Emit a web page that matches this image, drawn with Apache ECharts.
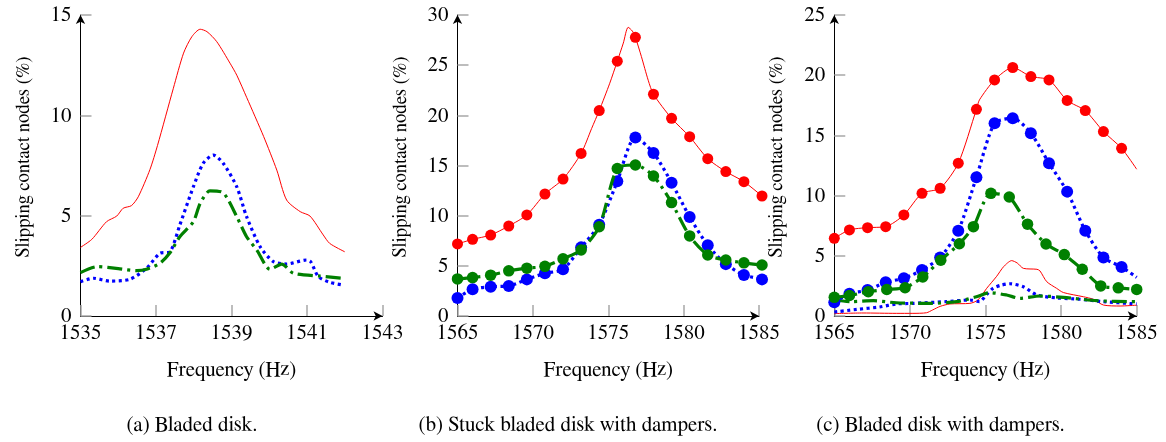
<!DOCTYPE html>
<html>
<head>
<meta charset="utf-8">
<script src="https://cdn.jsdelivr.net/npm/echarts@6/dist/echarts.min.js"></script>
<style>
html,body{margin:0;padding:0;background:#fff;}
#c{width:1166px;height:442px;}
</style>
</head>
<body>
<div id="c"></div>
<script>
// ---------------- Panel (a): Bladed disk ----------------
const redA = [[1535,3.42],[1535.3,3.82],[1535.69,4.7],[1535.96,4.98],[1536.13,5.37],[1536.35,5.5],[1536.53,5.94],[1536.84,7.3],[1537.04,8.5],[1537.46,11.35],[1537.73,13.1],[1537.95,13.92],[1538.17,14.29],[1538.35,14.17],[1538.61,13.67],[1538.96,12.6],[1539.14,12.0],[1539.4,10.9],[1539.85,8.95],[1540.2,7.27],[1540.46,5.78],[1540.82,5.2],[1541.08,4.98],[1541.43,4.04],[1541.6,3.62],[1542.0,3.2]];
const blueA = [[1535,1.71],[1535.34,1.88],[1535.78,1.74],[1536.31,1.83],[1536.75,2.38],[1537.1,3.12],[1537.37,3.2],[1537.63,4.53],[1537.99,6.44],[1538.25,7.61],[1538.52,8.02],[1538.78,7.61],[1539.14,6.44],[1539.4,4.95],[1539.76,3.45],[1540.11,2.71],[1540.46,2.59],[1540.99,2.79],[1541.1,2.7],[1541.3,1.96],[1541.6,1.68],[1541.96,1.54]];
const greenA = [[1535,2.16],[1535.43,2.46],[1536.0,2.36],[1536.49,2.26],[1536.75,2.33],[1537.1,2.62],[1537.37,3.15],[1537.63,3.95],[1537.99,4.7],[1538.17,5.61],[1538.43,6.24],[1538.78,6.14],[1539.14,4.95],[1539.4,3.95],[1539.67,3.29],[1540.02,2.33],[1540.33,2.59],[1540.64,2.13],[1541.35,1.99],[1541.96,1.88]];

// ---------------- Panel (b): Stuck bladed disk with dampers ----------------
const freqB = [1565,1566.0,1567.2,1568.4,1569.6,1570.8,1572.0,1573.2,1574.4,1575.6,1576.8,1578.0,1579.2,1580.4,1581.6,1582.8,1584.0,1585.2];
const redB = [7.18,7.64,8.07,8.97,10.07,12.16,13.65,16.2,20.47,25.4,27.77,22.1,19.7,17.87,15.68,14.39,13.39,11.96];
const blueB = [1.8,2.66,2.92,2.99,3.65,4.25,4.65,6.84,9.1,13.42,17.8,16.25,13.29,9.87,7.05,5.17,4.09,3.65];
const greenB = [3.7,3.83,4.07,4.5,4.77,4.95,5.7,6.58,8.9,14.7,15.05,13.95,11.3,7.98,6.08,5.58,5.3,5.08];
const redExtraB = [[1573.9,18.7],[1575.1,23.2],[1576.0,27.2],[1576.32,28.77],[1576.6,28.4],[1577.2,25.85],[1577.65,23.5],[1585.7,11.4]];
const blueExtraB = [[1586.05,3.26]];
const greenExtraB = [];

// ---------------- Panel (c): Bladed disk with dampers ----------------
const freqC = [1565,1566.0,1567.2,1568.4,1569.6,1570.8,1572.0,1573.2,1574.4,1575.6,1576.8,1578.0,1579.2,1580.4,1581.6,1582.8,1584.0];
const redC = [6.45,7.15,7.34,7.42,8.39,10.19,10.61,12.69,17.17,19.61,20.64,19.89,19.61,17.9,17.06,15.32,13.93];
const blueC = [1.15,1.85,2.15,2.8,3.13,3.82,4.86,7.08,11.52,16.0,16.43,15.18,12.69,10.33,7.09,4.86,4.07];
const freqGreenC = [1565,1566.0,1567.25,1568.47,1569.68,1570.85,1572.04,1573.27,1574.2,1575.36,1576.57,1577.78,1579.0,1580.21,1581.4,1582.62,1583.78,1585.0];
const greenC = [1.55,1.7,2.02,2.2,2.35,3.24,4.64,6.0,7.42,10.19,9.88,7.63,5.98,5.1,3.88,2.5,2.34,2.21];
const redExtraC = [[1574.6,17.95],[1585,12.19]];
const blueExtraC = [[1585,3.21]];
const greenExtraC = [];
const redLowC = [[1565,0.2],[1566.9,0.25],[1569.1,0.22],[1570.2,0.22],[1571.1,0.27],[1571.5,0.5],[1572.0,0.8],[1572.65,1.0],[1573.97,1.05],[1574.5,1.33],[1575.08,2.3],[1575.74,3.3],[1576.2,4.1],[1576.73,4.6],[1577.1,4.4],[1577.5,3.96],[1578.4,3.88],[1578.6,3.75],[1579.05,2.85],[1579.7,2.3],[1580.15,1.95],[1581.47,1.6],[1582.13,1.39],[1582.8,0.91],[1583.9,0.83],[1585,0.9]];
const blueLowC = [[1565,0.33],[1566.5,0.55],[1568.0,0.75],[1569.1,1.0],[1570.2,1.05],[1572.4,1.19],[1573.97,1.33],[1574.6,1.19],[1575.08,1.8],[1575.5,2.3],[1576.0,2.55],[1576.6,2.68],[1577.5,2.43],[1578.4,1.74],[1579.7,1.5],[1581.25,1.39],[1582.8,1.19],[1585,1.0]];
const greenLowC = [[1565,1.33],[1566.1,1.19],[1567.6,1.27],[1569.1,1.1],[1571.3,1.05],[1573.1,1.19],[1574.4,1.6],[1575.3,1.94],[1576.4,1.74],[1577.28,1.47],[1578.6,1.66],[1580.15,1.55],[1582.35,1.27],[1585,1.19]];

// ---------------- Text ----------------
const xName = 'Frequency (Hz)';
const yName = 'Slipping contact nodes (%)';
const captions = ['(a) Bladed disk.', '(b) Stuck bladed disk with dampers.', '(c) Bladed disk with dampers.'];

// ---------------- Build ----------------
const FONT = 'FreeSerif';
const FS = 21;
const RED = '#ff0000', BLUE = '#0000ff', GREEN = '#008000';
const DOT = [3, 3.5], DASHDOT = [15, 5, 3, 5];

function zip(xs, ys) { return xs.map((x, i) => [x, ys[i]]); }
function merge(a, b) { return a.concat(b).sort((p, q) => p[0] - q[0]); }

const grids = [
  {left: 80.5, top: 15, width: 302, height: 301},
  {left: 457.5, top: 15, width: 301.5, height: 301},
  {left: 834.3, top: 15, width: 302.4, height: 301}
].map(g => Object.assign({outerBoundsMode: 'none', containLabel: false}, g));

const axisCommon = {
  axisLine: {show: true, onZero: false, lineStyle: {color: '#000', width: 1}, symbol: ['none', 'arrow'], symbolSize: [7, 9]},
  axisTick: {show: true, inside: true, length: 11, lineStyle: {color: '#a8a8a8', width: 1.5}},
  splitLine: {show: false}
};
function fmt(v) { return String(v); }
function xAx(gi, min, max, interval) {
  return Object.assign({}, axisCommon, {
    gridIndex: gi, type: 'value', min, max, interval,
    name: xName, nameLocation: 'middle', nameGap: 43,
    nameTextStyle: {fontFamily: FONT, fontSize: FS, color: '#000'},
    axisLabel: {margin: 6, fontFamily: FONT, fontSize: FS, color: '#000', formatter: fmt}
  });
}
function yAx(gi, max) {
  return Object.assign({}, axisCommon, {
    gridIndex: gi, type: 'value', min: 0, max, interval: 5,
    axisLabel: {margin: 9, fontFamily: FONT, fontSize: FS, color: '#000', formatter: fmt}
  });
}

let zc = 2;
function line(gi, data, color, width, type, clip) {
  return {type: 'line', xAxisIndex: gi, yAxisIndex: gi, data, symbol: 'none', showSymbol: false,
    smooth: 0.25, clip: !!clip, z: zc++, silent: true,
    lineStyle: {color, width, type, cap: 'butt', join: 'round'}};
}
function marks(gi, data, color, size) {
  return {type: 'scatter', xAxisIndex: gi, yAxisIndex: gi, data, symbol: 'circle', symbolSize: size,
    clip: false, z: zc++, silent: true, itemStyle: {color, opacity: 1}};
}

const series = [
  line(0, redA, RED, 1, 'solid', true),
  line(0, blueA, BLUE, 3.2, DOT, true),
  line(0, greenA, GREEN, 3.2, DASHDOT, true),

  line(1, merge(zip(freqB, redB), redExtraB), RED, 1, 'solid', false),
  marks(1, zip(freqB, redB), RED, 11),
  line(1, merge(zip(freqB, blueB), blueExtraB), BLUE, 3.2, DOT, false),
  marks(1, zip(freqB, blueB), BLUE, 12),
  line(1, merge(zip(freqB, greenB), greenExtraB), GREEN, 3.2, DASHDOT, false),
  marks(1, zip(freqB, greenB), GREEN, 11.5),

  line(2, redLowC, RED, 1, 'solid', false),
  line(2, blueLowC, BLUE, 3.2, DOT, false),
  line(2, greenLowC, GREEN, 3.2, DASHDOT, false),
  line(2, merge(zip(freqC, redC), redExtraC), RED, 1, 'solid', false),
  marks(2, zip(freqC, redC), RED, 11),
  line(2, merge(zip(freqC, blueC), blueExtraC), BLUE, 3.2, DOT, false),
  marks(2, zip(freqC, blueC), BLUE, 12),
  line(2, merge(zip(freqGreenC, greenC), greenExtraC), GREEN, 3.2, DASHDOT, false),
  marks(2, zip(freqGreenC, greenC), GREEN, 11.5)
];

const capX = [192, 568, 940.5];
const yNameX = [23, 400, 776.5];
const graphic = captions.map((t, i) => ({type: 'text', x: capX[i], y: 425, silent: true,
  style: {text: t, fontFamily: FONT, fontSize: FS, fill: '#000', align: 'center', verticalAlign: 'middle'}}))
  .concat(yNameX.map(x => ({type: 'text', x, y: 157, rotation: Math.PI / 2, silent: true,
  style: {text: yName, fontFamily: FONT, fontSize: 19, fill: '#000', align: 'center', verticalAlign: 'middle'}})));

const chart = echarts.init(document.getElementById('c'), null, {renderer: 'canvas'});
chart.setOption({
  animation: false,
  backgroundColor: '#fff',
  textStyle: {fontFamily: FONT},
  grid: grids,
  xAxis: [xAx(0, 1535, 1543, 2), xAx(1, 1565, 1585, 5), xAx(2, 1565, 1585, 5)],
  yAxis: [yAx(0, 15), yAx(1, 30), yAx(2, 25)],
  series,
  graphic
});
</script>
</body>
</html>
